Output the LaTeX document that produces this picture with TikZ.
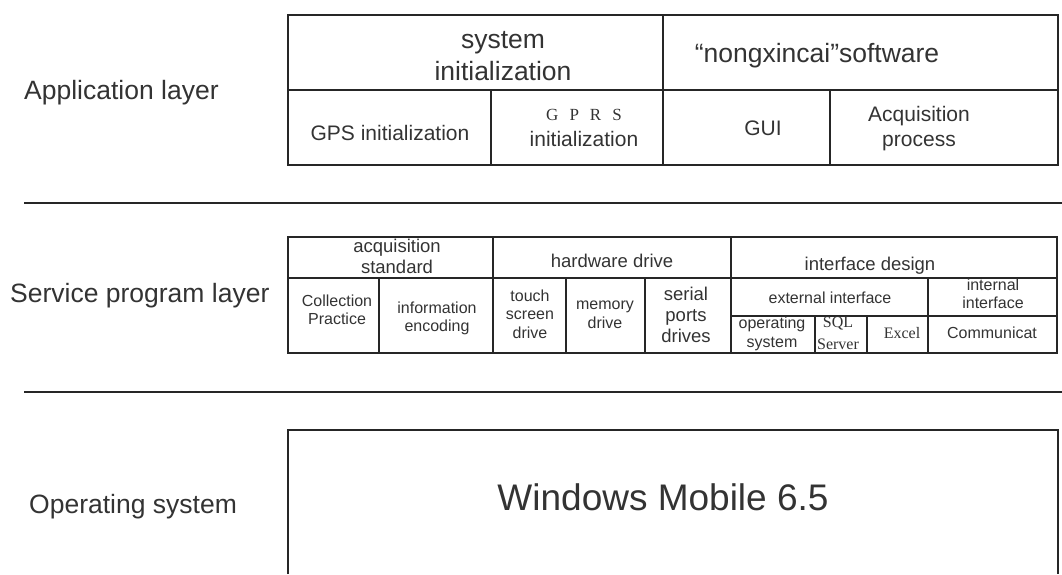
\documentclass[tikz,border=0pt]{standalone}
\usepackage{fontspec}
\setmainfont{Liberation Sans}
\newfontfamily\seriffont{Liberation Serif}
\usetikzlibrary{positioning,fit}

\tikzset{
  cell/.style={draw=black!85, line width=1.2pt, inner sep=0pt},
  txt/.style={text=black!80, align=center, inner sep=0pt},
  huge/.style={txt, font=\fontsize{37}{44}\selectfont},
  big/.style={txt, font=\fontsize{26.5}{32}\selectfont},
  mid/.style={txt, font=\fontsize{21}{25}\selectfont},
  small/.style={txt, font=\fontsize{18.5}{21}\selectfont},
  tiny/.style={txt, font=\fontsize{16}{18.5}\selectfont},
  rule/.style={draw=black!85, line width=1.4pt}
}

\begin{document}
\begin{tikzpicture}[x=1pt, y=-1pt]
	\useasboundingbox (0,0) rectangle (1062,574);

	% layer names
	\node[big, anchor=base west] (applayer) at (24,99) {Application layer};
	\node[big, anchor=base west] (srvlayer) at (10,302) {Service program layer};
	\node[big, anchor=base west] (oslayer) at (29,513) {Operating system};

	% separators
	\draw[rule] (24,203) -- (1062,203);
	\draw[rule] (24,392) -- (1062,392);

	% application layer
	\node[cell, fit={(288,15) (663,90)}] (sysinit) {};
	\node[cell, fit={(663,15) (1058,90)}] (nxc) {};
	\node[cell, fit={(288,90) (491,165)}] (gpsinit) {};
	\node[cell, fit={(491,90) (663,165)}] (gprsinit) {};
	\node[cell, fit={(663,90) (830,165)}] (gui) {};
	\node[cell, fit={(830,90) (1058,165)}] (acqproc) {};

	\node[big] (sysinit-t) at (503,56) {system\\initialization};
	\node[big, anchor=base] (nxc-t) at (817,62) {“nongxincai”software};
	\node[mid, anchor=base] (gpsinit-t) at (390,140) {GPS initialization};
	\node[mid] (gprsinit-t) at (584,128) {{\seriffont\fontsize{17}{20}\selectfont G\hspace{11pt}P\hspace{11pt}R\hspace{11pt}S}\\[1pt]initialization};
	\node[mid, anchor=base] (gui-t) at (763,135) {GUI};
	\node[mid] (acqproc-t) at (919,129) {Acquisition\\process};

	% service program layer
	\node[cell, fit={(288,237) (493,278)}] (acqstd) {};
	\node[cell, fit={(288,278) (379,353)}] (colprac) {};
	\node[cell, fit={(379,278) (493,353)}] (infoenc) {};
	\node[cell, fit={(493,237) (731,278)}] (hwdrive) {};
	\node[cell, fit={(493,278) (566,353)}] (touch) {};
	\node[cell, fit={(566,278) (645,353)}] (memory) {};
	\node[cell, fit={(645,278) (731,353)}] (serial) {};
	\node[cell, fit={(731,237) (1057,278)}] (ifdesign) {};
	\node[cell, fit={(731,278) (928,316)}] (extif) {};
	\node[cell, fit={(928,278) (1057,316)}] (intif) {};
	\node[cell, fit={(731,316) (815,353)}] (opsys) {};
	\node[cell, fit={(815,316) (867,353)}] (sql) {};
	\node[cell, fit={(867,316) (928,353)}] (excel) {};
	\node[cell, fit={(928,316) (1057,353)}] (comm) {};

	\node[small] (acqstd-t) at (397,256) {acquisition\\standard};
	\node[tiny] (colprac-t) at (337,310) {Collection\\Practice};
	\node[tiny] (infoenc-t) at (437,318.5) {information\\encoding};
	\node[small, anchor=base] (hwdrive-t) at (612,267) {hardware drive};
	\node[tiny] (touch-t) at (530,314) {touch\\screen\\drive};
	\node[tiny] (memory-t) at (605,315) {memory\\drive};
	\node[small] (serial-t) at (686,315) {serial\\ports\\drives};
	\node[small, anchor=base] (ifdesign-t) at (870,270) {interface design};
	\node[tiny, anchor=base] (extif-t) at (830,303) {external interface};
	\node[tiny] (intif-t) at (993,294) {internal\\interface};
	\node[tiny] (opsys-t) at (772,334) {operating\\system};
	\node[tiny, font=\seriffont\fontsize{16}{22}\selectfont] (sql-t) at (838,333) {SQL\\Server};
	\node[tiny, font=\seriffont\fontsize{16}{18.5}\selectfont, anchor=base] (excel-t) at (902,338) {Excel};
	\node[tiny, anchor=base] (comm-t) at (992,338) {Communicat};

	% operating system
	\draw[cell] (288,574) -- (288,430) -- (1058,430) -- (1058,574);
	\node[huge, anchor=base] (wm) at (663,510) {Windows Mobile 6.5};
\end{tikzpicture}
\end{document}
